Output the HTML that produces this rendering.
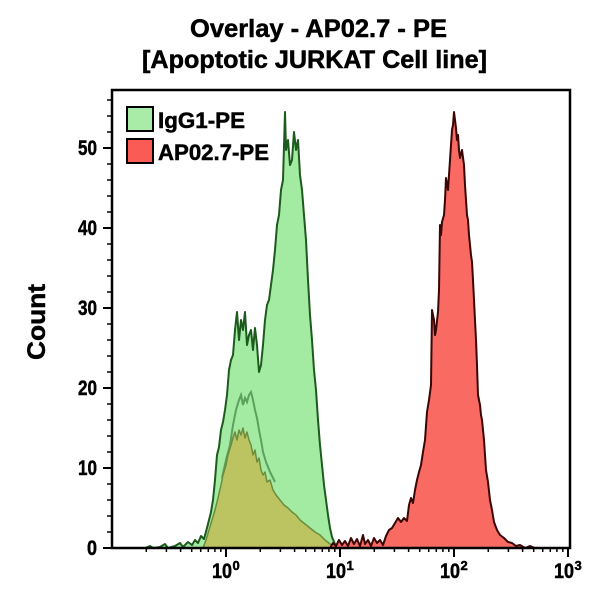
<!DOCTYPE html>
<html>
<head>
<meta charset="utf-8">
<style>
  html,body{margin:0;padding:0;background:#fff;}
  svg{display:block;}
  text{font-family:"Liberation Sans",Arial,sans-serif;font-weight:bold;fill:#000;stroke:#000;stroke-width:0.5;}
</style>
</head>
<body>
<svg width="600" height="600" viewBox="0 0 600 600" xmlns="http://www.w3.org/2000/svg">
  <rect x="0" y="0" width="600" height="600" fill="#fff"/>
  <!-- Title -->
  <text x="190" y="37" font-size="25" textLength="257" lengthAdjust="spacingAndGlyphs">Overlay - AP02.7 - PE</text>
  <text x="142" y="68" font-size="25" textLength="345" lengthAdjust="spacingAndGlyphs">[Apoptotic JURKAT Cell line]</text>

  <!-- Green histogram (IgG1-PE) -->
  <path d="M145,548 L150,546 L153,548 L160,547 L165,544 L168,548 L175,546 L180,543 L183,547 L188,542 L192,545 L195,540 L198,543 L201,536 L204,539 L207,528 L209,520 L211,512 L213,500 L215,480 L217,455 L219,447 L221,430 L223,422 L225,410 L227,395 L229,370 L231,360 L233,355 L235,330 L237,312 L239,340 L241,320 L243,330 L245,312 L247,345 L249,335 L251,330 L253,350 L255,328 L257,345 L259,372 L261,365 L263,345 L265,320 L267,305 L269,300 L271,285 L273,270 L275,250 L277,225 L279,215 L281,190 L283,180 L285,112 L286,150 L288,140 L290,165 L292,160 L294,132 L296,150 L298,140 L300,175 L302,190 L304,215 L306,240 L308,280 L310,315 L312,340 L314,370 L316,390 L318,420 L320,445 L322,465 L324,485 L326,500 L328,515 L330,528 L332,537 L335,544 L338,548 Z" fill="#a3eba3" stroke="#1d5a1d" stroke-width="2" stroke-linejoin="round"/>

  <!-- inner dark line -->
  <path d="M222,478 L226,460 L230,445 L233,425 L236,410 L239,400 L241,395 L243,405 L245,398 L247,402 L249,395 L251,392 L253,400 L255,410 L257,418 L259,430 L261,440 L263,452 L266,462 L270,472 L275,482" fill="none" stroke="#3f7f3f" stroke-width="2" opacity="0.7"/>

  <!-- Olive overlap region -->
  <path d="M203,548 L206,540 L209,530 L212,520 L215,510 L218,498 L221,485 L223,475 L226,465 L228,455 L231,445 L233,438 L235,432 L237,440 L239,430 L241,435 L243,428 L245,438 L247,432 L249,440 L251,445 L253,455 L255,450 L257,462 L259,458 L261,470 L263,475 L265,472 L267,482 L270,480 L273,490 L276,495 L280,500 L284,505 L288,508 L292,512 L296,515 L300,520 L305,524 L310,528 L315,532 L320,535 L325,540 L330,544 L335,548 Z" fill="#bcc462" stroke="#6b8c3c" stroke-width="1.5" stroke-linejoin="round"/>

  <!-- Red histogram (AP02.7-PE) -->
  <path d="M330,548 L333,543 L336,546 L339,540 L342,545 L345,541 L348,546 L351,538 L354,544 L357,539 L360,546 L363,535 L365,544 L368,540 L371,546 L374,538 L377,543 L380,540 L383,545 L386,536 L389,530 L392,528 L395,523 L398,518 L401,522 L404,518 L407,521 L409,505 L411,498 L413,503 L415,490 L417,480 L419,472 L421,465 L423,452 L425,440 L427,412 L429,400 L431,385 L432,310 L434,320 L435,335 L436,330 L438,312 L439,290 L440,225 L441,235 L442,222 L444,215 L445,200 L446,178 L448,190 L449,175 L450,160 L451,145 L452,130 L453,125 L454,112 L455,120 L456,128 L457,140 L458,135 L459,150 L460,158 L462,150 L464,165 L465,185 L466,200 L467,215 L468,220 L469,235 L470,245 L471,255 L472,262 L473,280 L474,300 L475,320 L476,340 L477,365 L478,395 L480,405 L481,415 L482,420 L483,430 L484,440 L485,455 L486,470 L487,476 L488,482 L490,500 L492,510 L494,522 L497,530 L500,535 L504,538 L508,542 L512,543 L516,546 L520,545 L525,548 L530,546 L535,548 Z" fill="#f86a62" stroke="#3a0606" stroke-width="2" stroke-linejoin="round"/>

  <!-- Frame -->
  <rect x="112" y="90" width="458" height="458" fill="none" stroke="#000" stroke-width="2.5"/>

  <!-- Y ticks -->
  <g stroke="#000" stroke-width="2">
    <line x1="103" y1="548" x2="112" y2="548"/>
    <line x1="103" y1="468" x2="112" y2="468"/>
    <line x1="103" y1="388" x2="112" y2="388"/>
    <line x1="103" y1="308" x2="112" y2="308"/>
    <line x1="103" y1="228" x2="112" y2="228"/>
    <line x1="103" y1="148" x2="112" y2="148"/>
  </g>
  <g stroke="#000" stroke-width="1.5">
    <line x1="107" y1="532" x2="112" y2="532"/>
    <line x1="107" y1="516" x2="112" y2="516"/>
    <line x1="107" y1="500" x2="112" y2="500"/>
    <line x1="107" y1="484" x2="112" y2="484"/>
    <line x1="107" y1="452" x2="112" y2="452"/>
    <line x1="107" y1="436" x2="112" y2="436"/>
    <line x1="107" y1="420" x2="112" y2="420"/>
    <line x1="107" y1="404" x2="112" y2="404"/>
    <line x1="107" y1="372" x2="112" y2="372"/>
    <line x1="107" y1="356" x2="112" y2="356"/>
    <line x1="107" y1="340" x2="112" y2="340"/>
    <line x1="107" y1="324" x2="112" y2="324"/>
    <line x1="107" y1="292" x2="112" y2="292"/>
    <line x1="107" y1="276" x2="112" y2="276"/>
    <line x1="107" y1="260" x2="112" y2="260"/>
    <line x1="107" y1="244" x2="112" y2="244"/>
    <line x1="107" y1="212" x2="112" y2="212"/>
    <line x1="107" y1="196" x2="112" y2="196"/>
    <line x1="107" y1="180" x2="112" y2="180"/>
    <line x1="107" y1="164" x2="112" y2="164"/>
    <line x1="107" y1="132" x2="112" y2="132"/>
    <line x1="107" y1="116" x2="112" y2="116"/>
    <line x1="107" y1="100" x2="112" y2="100"/>
  </g>
  <!-- Y labels -->
  <g font-size="21" text-anchor="end">
    <text x="97" y="555" textLength="10" lengthAdjust="spacingAndGlyphs">0</text>
    <text x="97" y="475" textLength="19" lengthAdjust="spacingAndGlyphs">10</text>
    <text x="97" y="395" textLength="19" lengthAdjust="spacingAndGlyphs">20</text>
    <text x="97" y="315" textLength="19" lengthAdjust="spacingAndGlyphs">30</text>
    <text x="97" y="235" textLength="19" lengthAdjust="spacingAndGlyphs">40</text>
    <text x="97" y="155" textLength="19" lengthAdjust="spacingAndGlyphs">50</text>
  </g>

  <!-- X ticks -->
  <g stroke="#000" stroke-width="2">
    <line x1="226" y1="548" x2="226" y2="557"/>
    <line x1="340" y1="548" x2="340" y2="557"/>
    <line x1="454" y1="548" x2="454" y2="557"/>
    <line x1="568" y1="548" x2="568" y2="557"/>
  </g>
  <g stroke="#000" stroke-width="1.5">
    <line x1="146.3" y1="548" x2="146.3" y2="552"/>
    <line x1="166.4" y1="548" x2="166.4" y2="552"/>
    <line x1="180.6" y1="548" x2="180.6" y2="552"/>
    <line x1="191.7" y1="548" x2="191.7" y2="552"/>
    <line x1="200.7" y1="548" x2="200.7" y2="552"/>
    <line x1="208.3" y1="548" x2="208.3" y2="552"/>
    <line x1="214.9" y1="548" x2="214.9" y2="552"/>
    <line x1="220.8" y1="548" x2="220.8" y2="552"/>
    <line x1="260.3" y1="548" x2="260.3" y2="552"/>
    <line x1="280.4" y1="548" x2="280.4" y2="552"/>
    <line x1="294.6" y1="548" x2="294.6" y2="552"/>
    <line x1="305.7" y1="548" x2="305.7" y2="552"/>
    <line x1="314.7" y1="548" x2="314.7" y2="552"/>
    <line x1="322.3" y1="548" x2="322.3" y2="552"/>
    <line x1="328.9" y1="548" x2="328.9" y2="552"/>
    <line x1="334.8" y1="548" x2="334.8" y2="552"/>
    <line x1="374.3" y1="548" x2="374.3" y2="552"/>
    <line x1="394.4" y1="548" x2="394.4" y2="552"/>
    <line x1="408.6" y1="548" x2="408.6" y2="552"/>
    <line x1="419.7" y1="548" x2="419.7" y2="552"/>
    <line x1="428.7" y1="548" x2="428.7" y2="552"/>
    <line x1="436.3" y1="548" x2="436.3" y2="552"/>
    <line x1="442.9" y1="548" x2="442.9" y2="552"/>
    <line x1="448.8" y1="548" x2="448.8" y2="552"/>
    <line x1="488.3" y1="548" x2="488.3" y2="552"/>
    <line x1="508.4" y1="548" x2="508.4" y2="552"/>
    <line x1="522.6" y1="548" x2="522.6" y2="552"/>
    <line x1="533.7" y1="548" x2="533.7" y2="552"/>
    <line x1="542.7" y1="548" x2="542.7" y2="552"/>
    <line x1="550.3" y1="548" x2="550.3" y2="552"/>
    <line x1="556.9" y1="548" x2="556.9" y2="552"/>
    <line x1="562.8" y1="548" x2="562.8" y2="552"/>
  </g>
  <!-- X labels -->
  <g font-size="21">
    <text x="212" y="578" textLength="20" lengthAdjust="spacingAndGlyphs">10</text>
    <text x="232.5" y="570" font-size="13">0</text>
    <text x="326" y="578" textLength="20" lengthAdjust="spacingAndGlyphs">10</text>
    <text x="346.5" y="570" font-size="13">1</text>
    <text x="440" y="578" textLength="20" lengthAdjust="spacingAndGlyphs">10</text>
    <text x="460.5" y="570" font-size="13">2</text>
    <text x="554" y="578" textLength="20" lengthAdjust="spacingAndGlyphs">10</text>
    <text x="574.5" y="570" font-size="13">3</text>
  </g>

  <!-- Y axis title -->
  <text x="0" y="0" font-size="25" text-anchor="middle" textLength="76" lengthAdjust="spacingAndGlyphs" transform="translate(45,322) rotate(-90)">Count</text>

  <!-- Legend -->
  <rect x="127" y="107" width="26" height="24" fill="#a8eca8" stroke="#000" stroke-width="2"/>
  <rect x="127" y="139" width="26" height="24" fill="#fa5c55" stroke="#000" stroke-width="2"/>
  <text x="158" y="128" font-size="22" textLength="87" lengthAdjust="spacingAndGlyphs">IgG1-PE</text>
  <text x="158" y="160" font-size="22" textLength="111" lengthAdjust="spacingAndGlyphs">AP02.7-PE</text>
</svg>
</body>
</html>
